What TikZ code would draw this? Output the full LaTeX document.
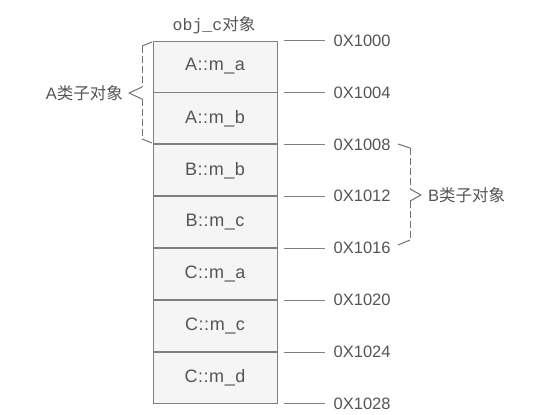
\documentclass[tikz,border=0pt]{standalone}
\usepackage{fontspec}
\setmainfont{Liberation Sans}
\setmonofont{Liberation Mono}
\newfontfamily\cjk{Noto Sans CJK SC}
\newfontfamily\cellfont[LetterSpace=3]{Liberation Sans}
\usetikzlibrary{positioning}
\definecolor{boxline}{HTML}{808080}
\definecolor{boxfill}{HTML}{F5F5F5}
\definecolor{inkgray}{HTML}{555555}
\definecolor{wiregray}{HTML}{808080}
\definecolor{bracegray}{HTML}{707070}

\begin{document}
\begin{tikzpicture}[x=1pt, y=-1pt]

  \tikzset{cell/.style={rectangle, draw=boxline, fill=boxfill, line width=0.9pt,
  		minimum width=124pt, minimum height=51pt, text=inkgray,
  		font=\cellfont\fontsize{18}{21}\selectfont}, }
  \tikzset{addr/.style={inner sep=0pt, text=inkgray,
  		font=\fontsize{16.5}{19}\selectfont}, }
  \tikzset{tick/.style={draw=wiregray, line width=0.9pt, shorten >=8pt}, }
  \tikzset{curly/.style={draw=bracegray, line width=1pt, line join=round}, }
  \tikzset{curlydash/.style={curly, dash pattern=on 7pt off 3pt}, }

  \useasboundingbox (0,0) rectangle (555,415);

   \node (title) at (214,25) [text=inkgray, font=\ttfamily\fontsize{16.5}{19}\selectfont]
        {obj\_c{\cjk 对象}};
   \node[cell] (1) at (215,66.5) {A::m\_a};
   \node[cell] (2) [below =0pt of 1] {A::m\_b};
   \node[cell] (3) [below =0pt of 2] {B::m\_b};
   \node[cell] (4) [below =0pt of 3] {B::m\_c};
   \node[cell] (5) [below =0pt of 4] {C::m\_a};
   \node[cell] (6) [below =0pt of 5] {C::m\_c};
   \node[cell] (7) [below =0pt of 6] {C::m\_d};
%
   \coordinate[right =7pt of 1.north east] (s0);
   \node[addr] (a0) [right =56pt of 1.north east] {0X1000};
\foreach \n /\addr in{1/0X1004,2/0X1008,3/0X1012,4/0X1016,5/0X1020,6/0X1024,7/0X1028}
  {
   \coordinate[right =7pt of \n.south east] (s\n);
   \node[addr] (a\n) [right =56pt of \n.south east] {\addr};
  }
\foreach \x in{0,...,7}
  \path[tick] (s\x) edge node {} (a\x);
%
   \coordinate (atip) at (129,93);
   \coordinate (btip) at (421,195);
   \path[curly] (152,42) -- (142,46) (142,87) -- (atip) -- (142,99)
        (142,139) -- (152,143);
   \path[curlydash] (142,46) -- (142,87) (142,99) -- (142,139);
   \path[curly] (398,144) -- (410,148) (410,189) -- (btip) -- (410,201)
        (410,240) -- (398,245);
   \path[curlydash] (410,148) -- (410,189) (410,201) -- (410,240);
   \node[addr] (alabel) [left =6pt of atip] {A{\cjk 类子对象}};
   \node[addr] (blabel) [right =7pt of btip] {B{\cjk 类子对象}};
%
\end{tikzpicture}
\end{document}
